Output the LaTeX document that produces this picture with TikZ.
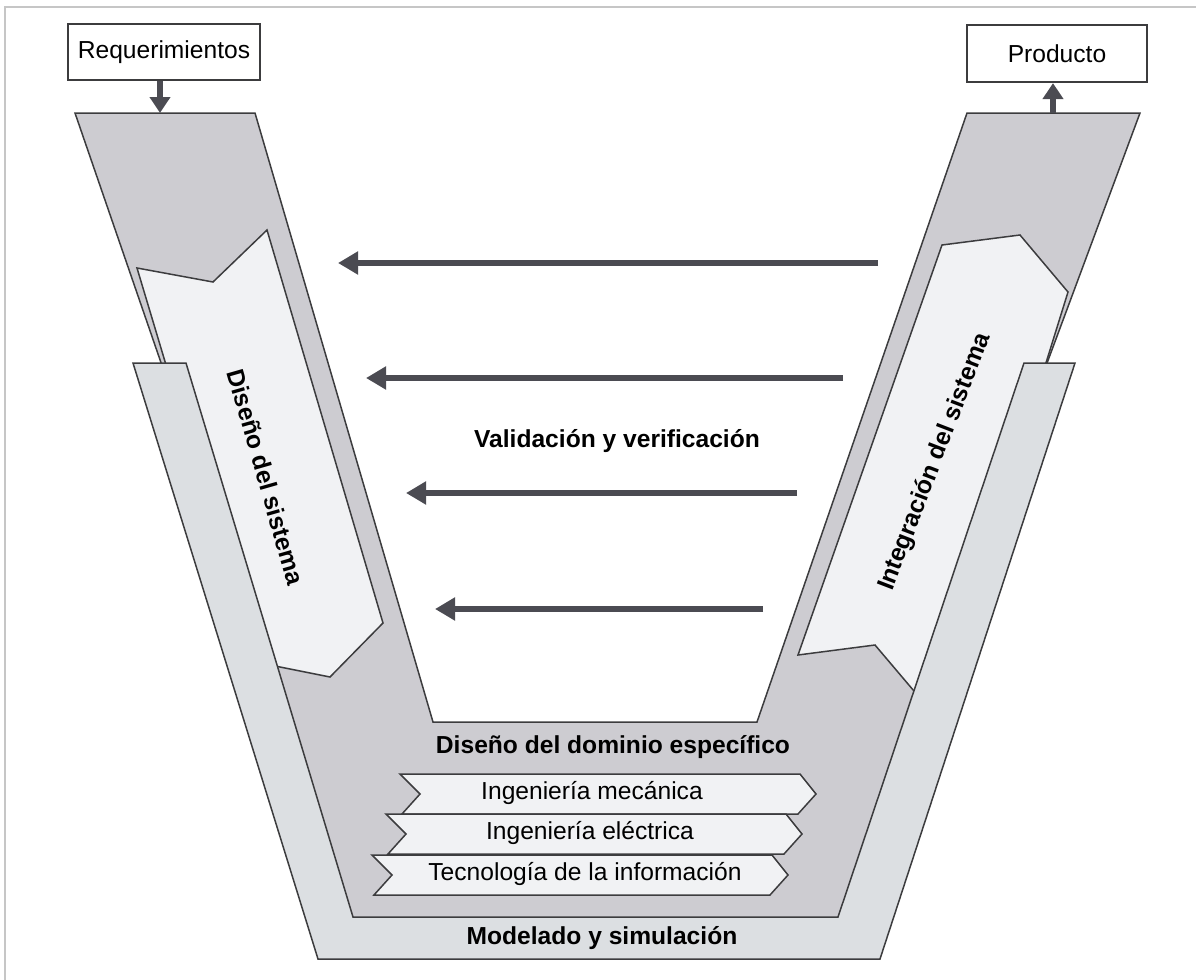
\documentclass[tikz,border=0pt]{standalone}
\usepackage{fontspec}
\setmainfont{Liberation Sans}
\usetikzlibrary{arrows.meta}

\definecolor{vdark}{HTML}{CDCCD1}
\definecolor{vlight}{HTML}{DCDFE2}
\definecolor{vpale}{HTML}{F1F2F4}
\definecolor{vline}{HTML}{3C3C3E}
\definecolor{varrow}{HTML}{4B4B52}
\definecolor{vframe}{HTML}{C6C6C6}

\begin{document}
\begin{tikzpicture}[x=0.5pt,y=-0.5pt,
    band/.style={draw=vline,line width=0.75pt,line join=miter},
    io node/.style={draw=vline,line width=1.1pt,fill=white,inner sep=0pt,
                    font=\fontsize{12.3}{14}\selectfont},
    plain node/.style={inner sep=0pt,font=\fontsize{12.3}{14}\selectfont},
    bold node/.style={inner sep=0pt,font=\bfseries\fontsize{12.3}{14}\selectfont},
    feedback/.style={draw=varrow,line width=3pt,-{Triangle[length=10pt,width=11pt]}},
    io arrow/.style={draw=varrow,line width=3pt,-{Triangle[length=8pt,width=10pt]}}]
  \useasboundingbox (0,0) rectangle (1196,980);
  \draw[vframe,line width=1pt] (5,980) -- (5,7) -- (1196,7);

  % the V: system level band
  \draw[band,fill=vdark] (75,113) -- (255,113) -- (433,722) -- (757,722)
      -- (967,113) -- (1140,113) -- (840,920) -- (353,920) -- cycle;
  % design going down, integration going up
  \draw[band,fill=vpale] (137,268) -- (213,282) -- (267,230) -- (383,623)
      -- (330,677) -- (255,662) -- cycle;
  \draw[band,fill=vpale] (942,245) -- (1020,235) -- (1068,292) -- (936,717)
      -- (875,645) -- (798,655) -- cycle;
  % modelling band underneath everything
  \draw[band,fill=vlight] (133,363) -- (186,363) -- (353,917) -- (838,917)
      -- (1024,363) -- (1075,363) -- (880,959) -- (318,959) -- cycle;

  \foreach \x/\y/\tx/\lbl [count=\i] in {400/774/592/{Ingeniería mecánica},
      386/814/590/{Ingeniería eléctrica},372/855/585/{Tecnología de la información}}{
    \draw[band,fill=vpale] (\x,\y) -- ++(400,0) -- ++(16,20) -- ++(-18,20)
        -- ++(-396,0) -- ++(18,-20) -- cycle;
    \node[plain node] (dom\i) at (\tx,\y+19) {\lbl};
  }

  \node[bold node,rotate=-74] (dis) at (266,477) {Diseño del sistema};
  \node[bold node,rotate=69] (integ) at (935,462) {Integración del sistema};
  \node[bold node] (vv) at (617,441) {Validación y verificación};
  \node[bold node] (dde) at (613,747) {Diseño del dominio específico};
  \node[bold node] (mys) at (602,938) {Modelado y simulación};

  % V&V feedback arrows
  \coordinate (v1s) at (878,263); \coordinate (v1e) at (338,263);
  \coordinate (v2s) at (843,378); \coordinate (v2e) at (366,378);
  \coordinate (v3s) at (797,493); \coordinate (v3e) at (406,493);
  \coordinate (v4s) at (763,609); \coordinate (v4e) at (435,609);
  \foreach \i in {1,...,4}
    \draw[feedback] (v\i s) -- (v\i e);

  \node[io node,minimum width=96pt,minimum height=28pt] (req) at (164,52) {Requerimientos};
  \node[io node,minimum width=90pt,minimum height=28.5pt] (prod) at (1057,53.5) {Producto};
  \coordinate (reqin) at (160,113);
  \coordinate (prodout) at (1053,113);
  \draw[io arrow] (req.south -| reqin) -- (reqin);
  \draw[io arrow] (prodout) -- (prod.south -| prodout);
\end{tikzpicture}
\end{document}
